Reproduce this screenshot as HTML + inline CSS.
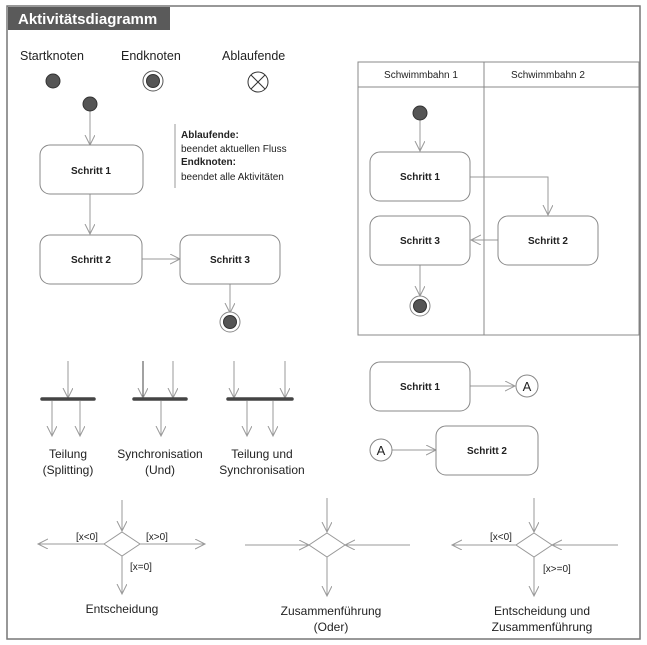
<!DOCTYPE html>
<html><head><meta charset="utf-8"><style>
html,body{margin:0;padding:0;background:#fff;}
svg{display:block;font-family:"Liberation Sans","DejaVu Sans",sans-serif;}
</style></head><body>
<svg width="647" height="645" viewBox="0 0 647 645" xmlns="http://www.w3.org/2000/svg">
<defs>
<marker id="a" markerWidth="12" markerHeight="12" refX="10" refY="5" orient="auto" markerUnits="userSpaceOnUse">
<path d="M0,0 L10,5 L0,10" fill="none" stroke="#999" stroke-width="1"/>
</marker>
</defs>
<rect x="7" y="6" width="633" height="633" fill="#fff" stroke="#777" stroke-width="1.5"/>
<rect x="8" y="7" width="162" height="23" fill="#5a5a5a"/>
<text x="18" y="24" font-size="15" font-weight="bold" fill="#fff">Aktivitätsdiagramm</text>

<g font-size="12.5" fill="#222">
<text x="20" y="60">Startknoten</text>
<text x="121" y="60">Endknoten</text>
<text x="222" y="60">Ablaufende</text>
</g>
<circle cx="53" cy="81" r="7" fill="#555" stroke="#333"/>
<circle cx="153" cy="81" r="10" fill="#fff" stroke="#555"/>
<circle cx="153" cy="81" r="6.5" fill="#555" stroke="#333"/>
<circle cx="258" cy="82" r="10" fill="#fff" stroke="#333"/>
<path d="M251,75 L265,89 M265,75 L251,89" stroke="#333"/>

<g stroke="#999" fill="none" stroke-width="1">
<line x1="90" y1="111" x2="90" y2="145" marker-end="url(#a)"/>
<line x1="90" y1="194" x2="90" y2="234" marker-end="url(#a)"/>
<line x1="142" y1="259" x2="180" y2="259" marker-end="url(#a)"/>
<line x1="230" y1="283" x2="230" y2="313" marker-end="url(#a)"/>
<line x1="175" y1="124" x2="175" y2="188"/>
</g>
<circle cx="90" cy="104" r="7" fill="#555" stroke="#333"/>
<g fill="#fff" stroke="#888">
<rect x="40" y="145" width="103" height="49" rx="10"/>
<rect x="40" y="235" width="102" height="49" rx="10"/>
<rect x="180" y="235" width="100" height="49" rx="10"/>
</g>
<circle cx="230" cy="322" r="10" fill="#fff" stroke="#888"/>
<circle cx="230" cy="322" r="6.5" fill="#555" stroke="#333"/>
<g font-size="10" font-weight="bold" fill="#222" text-anchor="middle">
<text x="91" y="174">Schritt 1</text>
<text x="91" y="263">Schritt 2</text>
<text x="230" y="263">Schritt 3</text>
</g>
<g font-size="10" fill="#222">
<text x="181" y="138" font-weight="bold">Ablaufende:</text>
<text x="181" y="152">beendet aktuellen Fluss</text>
<text x="181" y="165" font-weight="bold">Endknoten:</text>
<text x="181" y="180">beendet alle Aktivitäten</text>
</g>

<!-- swimlanes -->
<rect x="358" y="62" width="281" height="273" fill="#fff" stroke="#888"/>
<line x1="358" y1="87" x2="639" y2="87" stroke="#888"/>
<line x1="484" y1="62" x2="484" y2="335" stroke="#888"/>
<g font-size="10" fill="#222" text-anchor="middle">
<text x="421" y="78">Schwimmbahn 1</text>
<text x="548" y="78">Schwimmbahn 2</text>
</g>
<g stroke="#999" fill="none">
<line x1="420" y1="120" x2="420" y2="151" marker-end="url(#a)"/>
<polyline points="470,177 548,177 548,215" marker-end="url(#a)"/>
<line x1="498" y1="240" x2="471" y2="240" marker-end="url(#a)"/>
<line x1="420" y1="265" x2="420" y2="296" marker-end="url(#a)"/>
</g>
<circle cx="420" cy="113" r="7" fill="#555" stroke="#333"/>
<g fill="#fff" stroke="#888">
<rect x="370" y="152" width="100" height="49" rx="10"/>
<rect x="370" y="216" width="100" height="49" rx="10"/>
<rect x="498" y="216" width="100" height="49" rx="10"/>
</g>
<circle cx="420" cy="306" r="10" fill="#fff" stroke="#888"/>
<circle cx="420" cy="306" r="6.5" fill="#555" stroke="#333"/>
<g font-size="10" font-weight="bold" fill="#222" text-anchor="middle">
<text x="420" y="180">Schritt 1</text>
<text x="420" y="244">Schritt 3</text>
<text x="548" y="244">Schritt 2</text>
</g>

<!-- connectors -->
<g stroke="#999" fill="none">
<line x1="470" y1="386" x2="515" y2="386" marker-end="url(#a)"/>
<line x1="392" y1="450" x2="436" y2="450" marker-end="url(#a)"/>
</g>
<g fill="#fff" stroke="#888">
<rect x="370" y="362" width="100" height="49" rx="10"/>
<rect x="436" y="426" width="102" height="49" rx="10"/>
<circle cx="527" cy="386" r="11"/>
<circle cx="381" cy="450" r="11"/>
</g>
<g font-size="10" font-weight="bold" fill="#222" text-anchor="middle">
<text x="420" y="390">Schritt 1</text>
<text x="487" y="454">Schritt 2</text>
</g>
<g font-size="13" fill="#222" text-anchor="middle">
<text x="527" y="391">A</text>
<text x="381" y="455">A</text>
</g>

<!-- fork bars -->
<g stroke="#999" fill="none">
<line x1="68" y1="361" x2="68" y2="398" marker-end="url(#a)"/>
<line x1="52" y1="401" x2="52" y2="436" marker-end="url(#a)"/>
<line x1="80" y1="401" x2="80" y2="436" marker-end="url(#a)"/>
<line x1="143" y1="361" x2="143" y2="398" stroke="#444" marker-end="url(#a)"/>
<line x1="173" y1="361" x2="173" y2="398" marker-end="url(#a)"/>
<line x1="161" y1="401" x2="161" y2="436" marker-end="url(#a)"/>
<line x1="234" y1="361" x2="234" y2="398" marker-end="url(#a)"/>
<line x1="285" y1="361" x2="285" y2="398" marker-end="url(#a)"/>
<line x1="247" y1="401" x2="247" y2="436" marker-end="url(#a)"/>
<line x1="273" y1="401" x2="273" y2="436" marker-end="url(#a)"/>
</g>
<g stroke="#444" stroke-width="3.5" stroke-linecap="round">
<line x1="42" y1="399" x2="94" y2="399"/>
<line x1="134" y1="399" x2="186" y2="399"/>
<line x1="228" y1="399" x2="292" y2="399"/>
</g>
<g font-size="12" fill="#222" text-anchor="middle">
<text x="68" y="458">Teilung</text>
<text x="68" y="474">(Splitting)</text>
<text x="160" y="458">Synchronisation</text>
<text x="160" y="474">(Und)</text>
<text x="262" y="458">Teilung und</text>
<text x="262" y="474">Synchronisation</text>
</g>

<!-- decisions -->
<g stroke="#999" fill="none">
<line x1="122" y1="500" x2="122" y2="531" marker-end="url(#a)"/>
<path d="M122,532 L140,544 L122,556 L104,544 Z"/>
<line x1="104" y1="544" x2="38" y2="544" marker-end="url(#a)"/>
<line x1="140" y1="544" x2="205" y2="544" marker-end="url(#a)"/>
<line x1="122" y1="556" x2="122" y2="594" marker-end="url(#a)"/>

<line x1="327" y1="498" x2="327" y2="532" marker-end="url(#a)"/>
<path d="M327,533 L345,545 L327,557 L309,545 Z"/>
<line x1="245" y1="545" x2="309" y2="545" marker-end="url(#a)"/>
<line x1="410" y1="545" x2="345" y2="545" marker-end="url(#a)"/>
<line x1="327" y1="557" x2="327" y2="596" marker-end="url(#a)"/>

<line x1="534" y1="498" x2="534" y2="532" marker-end="url(#a)"/>
<path d="M534,533 L552,545 L534,557 L516,545 Z"/>
<line x1="516" y1="545" x2="452" y2="545" marker-end="url(#a)"/>
<line x1="618" y1="545" x2="552" y2="545" marker-end="url(#a)"/>
<line x1="534" y1="557" x2="534" y2="596" marker-end="url(#a)"/>
</g>
<g font-size="10" fill="#222">
<text x="76" y="540">[x&lt;0]</text>
<text x="146" y="540">[x&gt;0]</text>
<text x="130" y="570">[x=0]</text>
<text x="490" y="540">[x&lt;0]</text>
<text x="543" y="572">[x&gt;=0]</text>
</g>
<g font-size="12" fill="#222" text-anchor="middle">
<text x="122" y="613">Entscheidung</text>
<text x="331" y="615">Zusammenführung</text>
<text x="331" y="631">(Oder)</text>
<text x="542" y="615">Entscheidung und</text>
<text x="542" y="631">Zusammenführung</text>
</g>
</svg>
</body></html>
